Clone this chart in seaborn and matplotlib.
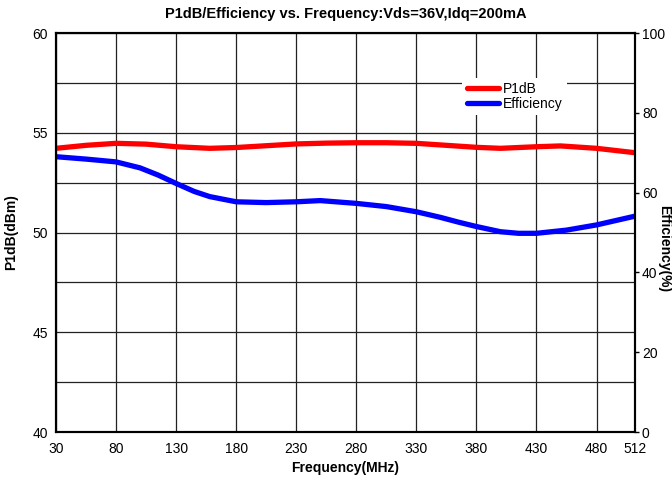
import numpy as np
import pandas as pd
import matplotlib
matplotlib.use("Agg")
import matplotlib.pyplot as plt
from matplotlib.ticker import MultipleLocator
import seaborn as sns

# values
freq_p1db = [30, 55, 80, 105, 130, 158, 180, 205, 230, 255, 280, 305, 330, 350, 380, 400, 430, 450, 480, 512]
p1db = [54.22, 54.37, 54.47, 54.43, 54.30, 54.22, 54.26, 54.35, 54.44, 54.48, 54.50, 54.50, 54.47, 54.39, 54.27, 54.22, 54.30, 54.34, 54.22, 54.00]

freq_eff = [30, 55, 80, 100, 115, 130, 145, 158, 180, 205, 230, 250, 280, 305, 330, 350, 365, 380, 400, 415, 430, 455, 480, 512]
eff = [69.0, 68.4, 67.7, 66.2, 64.4, 62.3, 60.3, 59.0, 57.7, 57.5, 57.7, 58.0, 57.3, 56.5, 55.2, 53.8, 52.6, 51.5, 50.2, 49.8, 49.8, 50.6, 51.9, 54.1]

xticks = [30, 80, 130, 180, 230, 280, 330, 380, 430, 480, 512]

df_p = pd.DataFrame({"Frequency": freq_p1db, "P1dB": p1db})
df_e = pd.DataFrame({"Frequency": freq_eff, "Efficiency": eff})

sns.set_style("white")
plt.rcParams["font.family"] = ["Liberation Sans", "DejaVu Sans"]
plt.rcParams["text.color"] = "black"
plt.rcParams["axes.labelcolor"] = "black"
plt.rcParams["xtick.color"] = "black"
plt.rcParams["ytick.color"] = "black"

fig = plt.figure(figsize=(6.72, 4.84), dpi=100)
ax = fig.add_axes([0.0833, 0.1074, 0.8616, 0.8244])
ax2 = ax.twinx()

sns.lineplot(data=df_p, x="Frequency", y="P1dB", ax=ax, color="#ff0000", lw=3.8, label="P1dB", legend=False)
sns.lineplot(data=df_e, x="Frequency", y="Efficiency", ax=ax2, color="#0000ff", lw=3.8, label="Efficiency", legend=False)

ax.set_xlim(30, 512)
ax.set_ylim(40, 60)
ax2.set_ylim(0, 100)
ax.set_xticks(xticks)
ax.set_yticks([40, 45, 50, 55, 60])
ax.yaxis.set_minor_locator(MultipleLocator(2.5))
ax2.set_yticks([0, 20, 40, 60, 80, 100])

ax.grid(True, which="both", axis="y", color="#222222", lw=0.9)
ax.grid(True, which="major", axis="x", color="#222222", lw=0.9)
ax.set_axisbelow(True)

ax.tick_params(axis="both", which="both", length=0, labelsize=10, pad=6)
ax.tick_params(axis="x", pad=7)
ax2.tick_params(axis="y", length=3, width=1, labelsize=10, pad=2, direction="out")
ax2.yaxis.set_ticks_position("right")
ax2.tick_params(left=False)

for a in (ax, ax2):
    for s in a.spines.values():
        s.set_color("black")
        s.set_linewidth(1.5)

ax.set_xlabel("Frequency(MHz)", fontsize=10, fontweight="bold", labelpad=4)
ax.set_ylabel("P1dB(dBm)", fontsize=10, fontweight="bold", labelpad=10)
ax2.set_ylabel("Efficiency(%)", fontsize=10, fontweight="bold", rotation=270, va="center", ha="center")
ax2.yaxis.set_label_coords(1.05, 0.46)
ax.set_title("P1dB/Efficiency vs. Frequency:Vds=36V,Idq=200mA", fontsize=10.5, fontweight="bold", pad=11)

h1, l1 = ax.get_legend_handles_labels()
h2, l2 = ax2.get_legend_handles_labels()
leg = ax2.legend(h1 + h2, l1 + l2, loc="upper left", bbox_to_anchor=(0.69, 0.905),
                 frameon=True, fontsize=10, handlelength=2.3, handletextpad=0.3,
                 labelspacing=0.05, borderpad=0.3, fancybox=False)
leg.get_frame().set_edgecolor("none")
leg.get_frame().set_facecolor("white")
leg.get_frame().set_alpha(1)

fig.savefig("out.png", dpi=100)
